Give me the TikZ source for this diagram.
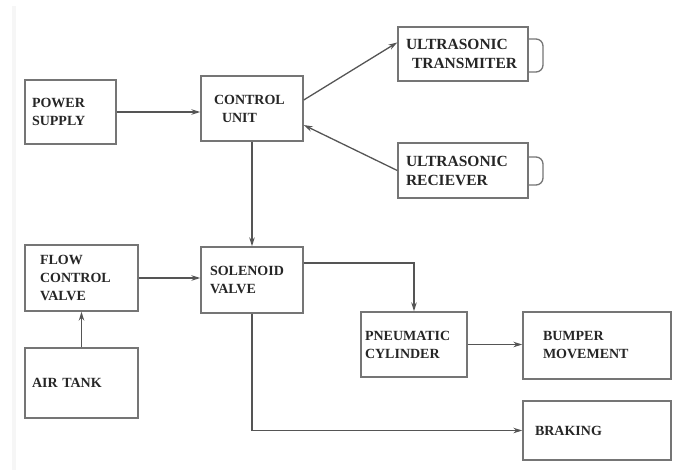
\documentclass[tikz,border=0pt]{standalone}
\usepackage{fontspec}
\setmainfont{Liberation Serif}
\usepackage{tikz}
\usetikzlibrary{arrows.meta}
\definecolor{boxline}{HTML}{757575}
\definecolor{wire}{HTML}{555555}
\tikzset{
  blk/.style={draw=boxline,line width=1.4pt,align=left,inner xsep=0pt,inner ysep=2pt,
    font=\fontsize{14}{18}\selectfont\bfseries,text=black!85},
  wire/.style={draw=wire,line width=1.3pt,-{Stealth[length=9pt,width=5.5pt]}},
}
\begin{document}
\begin{tikzpicture}[x=1pt,y=-1pt]
  \useasboundingbox (0,0) rectangle (678,475);
  \fill[gray!7] (12,6) rectangle (16,470);
  % top row
  \node[blk,minimum width=91pt,minimum height=64pt,text width=77pt] (psu) at (70.5,112) {POWER\\SUPPLY};
  \node[blk,minimum width=102pt,minimum height=65pt,text width=76pt,yshift=4pt] (cu) at (252,112.5) {CONTROL\\\hspace*{8pt}UNIT\\[4pt]};
  \node[blk,minimum width=130pt,minimum height=54pt,text width=114pt,font=\fontsize{15.5}{19}\selectfont\bfseries] (tx) at (463,54) {ULTRASONIC\\\hspace*{6pt}TRANSMITER};
  \node[blk,minimum width=130pt,minimum height=55pt,text width=114pt,font=\fontsize{15.5}{19}\selectfont\bfseries] (rx) at (463,170.5) {ULTRASONIC\\RECIEVER};
  % lower part
  \node[blk,minimum width=113pt,minimum height=66pt,text width=83pt] (fcv) at (81.5,278) {FLOW\\CONTROL\\VALVE};
  \node[blk,minimum width=102pt,minimum height=66pt,text width=84pt] (sv) at (252,280) {SOLENOID\\VALVE};
  \node[blk,minimum width=113pt,minimum height=70pt,text width=99pt] (tank) at (81.5,383) {AIR TANK};
  \node[blk,minimum width=106pt,minimum height=65pt,text width=98pt] (pc) at (414,344.5) {PNEUMATIC\\CYLINDER};
  \node[blk,minimum width=148pt,minimum height=67pt,text width=108pt] (bump) at (597,345.5) {BUMPER\\MOVEMENT};
  \node[blk,minimum width=148pt,minimum height=59pt,text width=124pt] (brk) at (597,430.5) {BRAKING};
  % sensor caps
  \draw[boxline,line width=1.3pt,rounded corners=7pt] (tx.east |- 0,39) -- (543,39) -- (543,72) -- (tx.east |- 0,72);
  \draw[boxline,line width=1.3pt,rounded corners=7pt] (rx.east |- 0,157) -- (543,157) -- (543,185) -- (rx.east |- 0,185);
  % connectors
  \draw[wire] (psu.east) -- (cu.west |- psu.east);
  \draw[wire] (cu.east |- 0,100) -- (tx.170);
  \draw[wire] (rx.west) -- (cu.east |- 0,125);
  \draw[wire] (cu.south) -- (sv.north);
  \draw[wire] (fcv.east) -- (sv.west |- fcv.east);
  \draw[wire] (tank.north) -- (fcv.south);
  \draw[wire] (sv.east |- 0,263) -| (pc.north);
  \draw[wire] (sv.south) |- (brk.west);
  \draw[wire] (pc.east) -- (bump.west |- pc.east);
\end{tikzpicture}
\end{document}
